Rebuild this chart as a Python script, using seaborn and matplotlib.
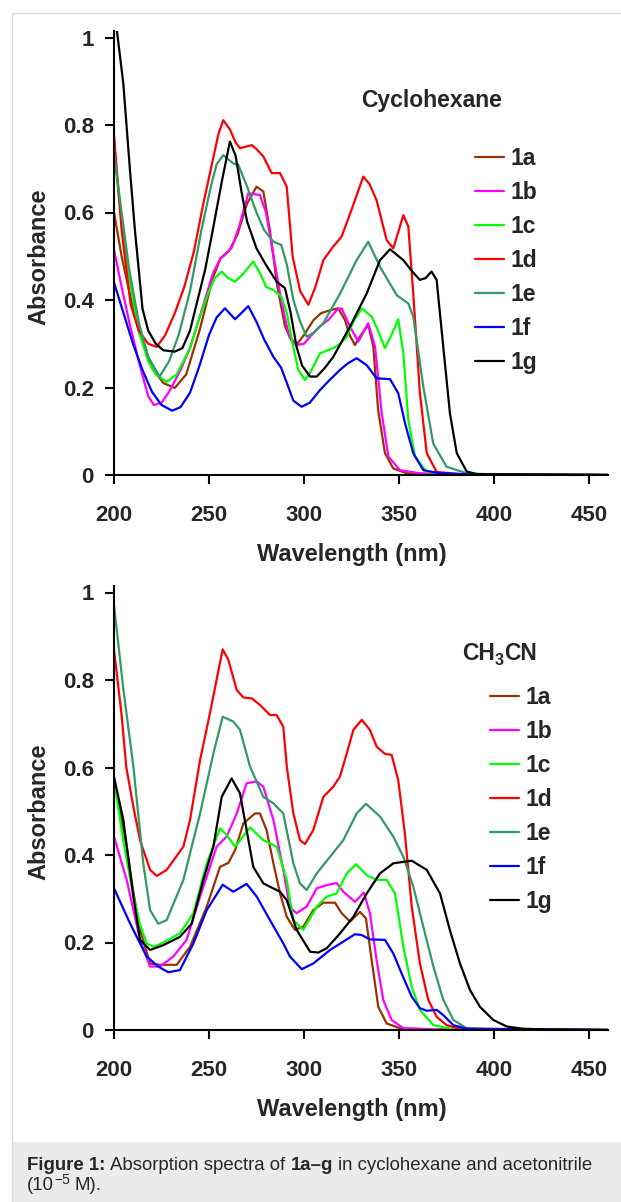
import numpy as np
import pandas as pd
import seaborn as sns
import matplotlib.pyplot as plt
from matplotlib.transforms import IdentityTransform
from matplotlib.patches import Rectangle
from matplotlib.lines import Line2D

# ---------------- data ----------------
compounds = ["1a", "1b", "1c", "1d", "1e", "1f", "1g"]
colors = ["#993300", "#ff00ff", "#00ff00", "#ff0000", "#339966", "#0000ff", "#000000"]

# cyclohexane
cy_1a_x = [200, 204, 208, 213, 220, 226, 232, 238, 245, 252, 256, 258, 261, 265, 270, 275, 278.6, 282, 286, 290, 293, 296, 300, 305, 309, 314, 318, 321.6, 324, 326.8, 330, 333.8, 336.5, 339, 342.6, 347, 354, 370, 460]
cy_1a_y = [0.60, 0.50, 0.42, 0.33, 0.245, 0.21, 0.199, 0.23, 0.33, 0.45, 0.495, 0.503, 0.515, 0.55, 0.62, 0.659, 0.648, 0.56, 0.43, 0.34, 0.31, 0.297, 0.32, 0.354, 0.37, 0.377, 0.381, 0.354, 0.32, 0.297, 0.32, 0.343, 0.293, 0.149, 0.05, 0.015, 0.004, 0.001, 0.0]

cy_1b_x = [200, 204, 208, 213, 218, 221, 225, 229, 235, 240, 245, 252, 256, 258.4, 262, 266, 270.7, 276.8, 280, 284, 288, 292, 296, 300, 304, 308.4, 313, 317.2, 319.8, 324.2, 328.6, 333.8, 337.4, 340.9, 344.4, 350.5, 361, 380, 460]
cy_1b_y = [0.515, 0.43, 0.35, 0.26, 0.18, 0.16, 0.165, 0.19, 0.24, 0.29, 0.36, 0.46, 0.495, 0.503, 0.52, 0.57, 0.644, 0.64, 0.60, 0.50, 0.40, 0.32, 0.297, 0.30, 0.32, 0.34, 0.355, 0.377, 0.381, 0.339, 0.305, 0.347, 0.293, 0.141, 0.042, 0.011, 0.004, 0.001, 0.0]

cy_1c_x = [200, 204, 208, 213, 218, 222, 227.7, 233, 240, 245, 250, 253, 256.7, 260, 263.7, 268, 273.3, 277, 280, 283.9, 288, 291, 294, 297, 300.5, 304, 308.4, 315.4, 319, 322.5, 326, 330.4, 335.6, 339, 342.6, 346, 349.6, 352.3, 354.9, 358.4, 364.6, 380, 460]
cy_1c_y = [0.737, 0.58, 0.45, 0.33, 0.26, 0.23, 0.213, 0.23, 0.29, 0.36, 0.42, 0.45, 0.465, 0.45, 0.442, 0.46, 0.488, 0.46, 0.43, 0.423, 0.408, 0.37, 0.30, 0.24, 0.217, 0.24, 0.278, 0.29, 0.30, 0.316, 0.35, 0.381, 0.362, 0.33, 0.29, 0.32, 0.356, 0.278, 0.126, 0.042, 0.007, 0.001, 0.0]

cy_1d_x = [200, 204, 208.75, 213, 218, 222.5, 227, 232, 237, 242, 247, 252, 255, 257.5, 261, 264, 266.3, 269, 272.5, 275, 278.6, 283, 287.4, 290.9, 294, 298, 302.3, 306, 310.2, 315, 319.8, 325, 331.2, 334.5, 338.2, 343.5, 347, 352.3, 354.9, 357.5, 361, 364.6, 369.8, 385, 460]
cy_1d_y = [0.777, 0.56, 0.39, 0.33, 0.30, 0.293, 0.32, 0.37, 0.43, 0.51, 0.62, 0.72, 0.78, 0.811, 0.79, 0.76, 0.747, 0.75, 0.754, 0.745, 0.728, 0.69, 0.69, 0.659, 0.50, 0.42, 0.389, 0.43, 0.491, 0.52, 0.545, 0.606, 0.682, 0.665, 0.628, 0.537, 0.518, 0.594, 0.568, 0.415, 0.187, 0.05, 0.007, 0.001, 0.0]

cy_1e_x = [200, 204, 208, 213, 218, 224, 229, 234, 240, 246, 251, 254, 257.5, 262.8, 265.4, 270, 275, 279, 283.9, 288, 291, 294.4, 298, 301.4, 305, 310.2, 319, 327.7, 333.8, 340, 348.8, 354.9, 357.5, 362.8, 368, 375, 385.5, 400, 460]
cy_1e_y = [0.737, 0.60, 0.47, 0.35, 0.27, 0.225, 0.26, 0.32, 0.42, 0.56, 0.66, 0.71, 0.731, 0.712, 0.709, 0.66, 0.60, 0.56, 0.533, 0.526, 0.48, 0.40, 0.35, 0.316, 0.325, 0.347, 0.415, 0.491, 0.533, 0.476, 0.411, 0.392, 0.362, 0.202, 0.072, 0.019, 0.004, 0.001, 0.0]

cy_1f_x = [200, 205, 210, 215, 220, 225, 230.6, 235, 240, 245, 250, 254, 258.4, 263.7, 267, 270.7, 275, 279, 283.9, 288, 291, 294.4, 298.7, 303, 308.4, 313, 318.9, 323, 327.7, 333, 338.2, 345.3, 349.6, 353.2, 357.5, 362.8, 371.6, 390, 460]
cy_1f_y = [0.44, 0.37, 0.30, 0.24, 0.19, 0.16, 0.147, 0.155, 0.188, 0.25, 0.32, 0.36, 0.381, 0.356, 0.37, 0.386, 0.35, 0.31, 0.27, 0.245, 0.21, 0.17, 0.156, 0.165, 0.194, 0.215, 0.24, 0.255, 0.267, 0.251, 0.221, 0.219, 0.187, 0.118, 0.05, 0.011, 0.004, 0.001, 0.0]

cy_1g_x = [200, 204.9, 208.4, 211, 215, 218, 222, 226, 232, 236, 240, 244, 248, 252, 256.7, 261, 264, 267, 270, 275, 280, 285.6, 290, 293, 296.1, 299, 303.2, 306.7, 311, 315.4, 324.2, 333, 340, 345.3, 352.3, 357, 361, 364, 367.1, 369.8, 373.3, 376.8, 380.4, 385.6, 391, 460]
cy_1g_y = [1.07, 0.895, 0.697, 0.56, 0.38, 0.33, 0.30, 0.285, 0.282, 0.29, 0.33, 0.40, 0.47, 0.56, 0.67, 0.762, 0.73, 0.65, 0.58, 0.518, 0.48, 0.442, 0.427, 0.37, 0.293, 0.25, 0.225, 0.225, 0.245, 0.27, 0.339, 0.415, 0.491, 0.516, 0.491, 0.465, 0.446, 0.45, 0.465, 0.446, 0.293, 0.141, 0.05, 0.008, 0.002, 0.0]

# acetonitrile
ac_1a_x = [200, 203, 206.7, 210, 213.7, 219, 224.2, 233, 240, 248.8, 255.8, 260.2, 263.7, 268.1, 274.2, 276.8, 280.3, 283.9, 287.4, 290.9, 295.2, 299.6, 304.9, 310.2, 316.3, 319.8, 324.2, 329.5, 332.6, 335.6, 339.1, 343.5, 350.5, 370, 460]
ac_1a_y = [0.57, 0.50, 0.419, 0.32, 0.229, 0.152, 0.149, 0.149, 0.19, 0.282, 0.373, 0.382, 0.411, 0.472, 0.495, 0.495, 0.457, 0.381, 0.312, 0.259, 0.229, 0.236, 0.274, 0.291, 0.291, 0.267, 0.248, 0.27, 0.255, 0.16, 0.053, 0.015, 0.004, 0.001, 0.0]

ac_1b_x = [200, 206.7, 213.7, 219, 224.2, 231.2, 238.2, 245.3, 254, 259.3, 264.6, 269.8, 275.1, 278.6, 283.9, 289.1, 292.6, 296.1, 301.4, 306.7, 312, 317.2, 320.7, 326.8, 331.5, 334.7, 338.2, 341.7, 346.1, 352.3, 370, 460]
ac_1b_y = [0.442, 0.343, 0.206, 0.145, 0.145, 0.168, 0.206, 0.305, 0.419, 0.442, 0.495, 0.564, 0.568, 0.556, 0.48, 0.366, 0.28, 0.267, 0.282, 0.324, 0.331, 0.336, 0.316, 0.293, 0.314, 0.267, 0.16, 0.069, 0.023, 0.004, 0.001, 0.0]

ac_1c_x = [200, 205, 210, 213.7, 217.2, 221, 226, 234.7, 241.8, 248.8, 255.8, 259.3, 263.7, 271.6, 278.6, 285.6, 290.9, 294.4, 299.6, 306.7, 312, 317.2, 322.5, 327.4, 333, 338.2, 343.5, 347.9, 352.3, 356.7, 361, 368.1, 378.6, 460]
ac_1c_y = [0.57, 0.43, 0.31, 0.24, 0.198, 0.19, 0.20, 0.221, 0.267, 0.381, 0.461, 0.446, 0.419, 0.463, 0.434, 0.419, 0.343, 0.251, 0.229, 0.282, 0.305, 0.312, 0.358, 0.379, 0.354, 0.343, 0.343, 0.312, 0.19, 0.099, 0.046, 0.011, 0.002, 0.0]

ac_1d_x = [200, 203.9, 206.5, 210.2, 213.7, 219, 222.5, 227.7, 236.5, 240, 245.3, 250.5, 257.2, 260.2, 264.6, 268.1, 272.5, 276.8, 282.1, 285.6, 289.1, 291, 294.4, 297.9, 300.5, 304.9, 310.2, 315.4, 318.9, 322.5, 326, 330.4, 334.7, 338.2, 342.6, 346.1, 349.6, 353.1, 356.7, 361, 365.4, 369.8, 375.1, 382, 460]
ac_1d_y = [0.869, 0.724, 0.60, 0.51, 0.434, 0.366, 0.352, 0.366, 0.419, 0.48, 0.617, 0.724, 0.87, 0.846, 0.777, 0.76, 0.758, 0.743, 0.72, 0.72, 0.693, 0.60, 0.495, 0.434, 0.425, 0.457, 0.533, 0.556, 0.579, 0.632, 0.686, 0.709, 0.686, 0.648, 0.631, 0.629, 0.571, 0.449, 0.282, 0.152, 0.069, 0.03, 0.011, 0.003, 0.0]

ac_1e_x = [200, 204.9, 210.2, 215.4, 219, 223.3, 227.7, 236.5, 245.3, 252.3, 257.2, 262.8, 266.3, 271.6, 278.6, 283.9, 289.1, 294.4, 297.9, 301.4, 306.7, 313.7, 320.7, 327.7, 332.6, 340, 347, 352.3, 357.5, 362.8, 368.1, 373.3, 378.6, 385.6, 400, 460]
ac_1e_y = [0.971, 0.78, 0.602, 0.381, 0.274, 0.243, 0.251, 0.343, 0.495, 0.632, 0.716, 0.705, 0.686, 0.602, 0.533, 0.518, 0.495, 0.381, 0.335, 0.32, 0.358, 0.396, 0.434, 0.495, 0.517, 0.488, 0.442, 0.396, 0.328, 0.236, 0.145, 0.069, 0.023, 0.004, 0.001, 0.0]

ac_1f_x = [200, 208.4, 217.2, 223.3, 228.6, 234.7, 241.8, 248.8, 257.2, 262.8, 269.8, 275.1, 282.1, 289.1, 292.6, 298.8, 304.9, 313.7, 320.7, 326.8, 330.4, 334.7, 342.6, 347, 351.4, 356.7, 361, 364.6, 369.8, 373.3, 378.6, 385.6, 460]
ac_1f_y = [0.324, 0.244, 0.168, 0.145, 0.132, 0.137, 0.198, 0.274, 0.332, 0.316, 0.334, 0.305, 0.251, 0.198, 0.168, 0.139, 0.152, 0.183, 0.202, 0.219, 0.217, 0.207, 0.206, 0.175, 0.129, 0.076, 0.05, 0.044, 0.046, 0.034, 0.011, 0.003, 0.0]

ac_1g_x = [200, 204.9, 210.2, 213.7, 219, 226, 234.7, 240.9, 247, 252.3, 256.7, 261.9, 266.3, 269.8, 273.3, 278.6, 287.4, 290.9, 296.1, 303.2, 307.5, 312, 319, 326, 333, 340, 347, 356.7, 364.6, 371.6, 376.8, 382.1, 387.4, 392.6, 399.6, 406.7, 415, 428, 460]
ac_1g_y = [0.579, 0.48, 0.305, 0.206, 0.183, 0.194, 0.213, 0.243, 0.343, 0.419, 0.533, 0.575, 0.541, 0.457, 0.373, 0.335, 0.316, 0.297, 0.229, 0.179, 0.177, 0.187, 0.221, 0.259, 0.312, 0.358, 0.381, 0.387, 0.366, 0.312, 0.228, 0.152, 0.091, 0.053, 0.023, 0.008, 0.003, 0.001, 0.0]

x_ticks = [200, 250, 300, 350, 400, 450]
y_ticks = [0, 0.2, 0.4, 0.6, 0.8, 1]
y_ticklabels = ["0", "0.2", "0.4", "0.6", "0.8", "1"]


def long_form(pairs):
    frames = []
    for name, (xs, ys) in zip(compounds, pairs):
        frames.append(pd.DataFrame({"wl": xs, "A": ys, "cmpd": name}))
    return pd.concat(frames, ignore_index=True)


df_cy = long_form([(cy_1a_x, cy_1a_y), (cy_1b_x, cy_1b_y), (cy_1c_x, cy_1c_y), (cy_1d_x, cy_1d_y),
                   (cy_1e_x, cy_1e_y), (cy_1f_x, cy_1f_y), (cy_1g_x, cy_1g_y)])
df_ac = long_form([(ac_1a_x, ac_1a_y), (ac_1b_x, ac_1b_y), (ac_1c_x, ac_1c_y), (ac_1d_x, ac_1d_y),
                   (ac_1e_x, ac_1e_y), (ac_1f_x, ac_1f_y), (ac_1g_x, ac_1g_y)])

sns.set_theme(style="white")
plt.rcParams["font.family"] = ["Liberation Sans", "DejaVu Sans"]

W, H = 621, 1202
fig = plt.figure(figsize=(W / 100, H / 100), dpi=100)
fig.patch.set_facecolor("white")

# page frame and caption box
fig.add_artist(Line2D([11.5 / W, 11.5 / W], [0, 1 - 13 / H], color="#dcdcdc", lw=1.0))
fig.add_artist(Line2D([11.5 / W, 1], [1 - 13 / H, 1 - 13 / H], color="#dcdcdc", lw=1.0))
fig.add_artist(Rectangle((11.5 / W, 0), 1 - 11.5 / W, 60 / H, facecolor="#ebebeb", edgecolor="none"))

ax_left = 114 / W
ax_w = 494 / W
ax_h = 444.5 / H
ax1 = fig.add_axes([ax_left, (H - 475) / H, ax_w, ax_h])
ax2 = fig.add_axes([ax_left, (H - 1030) / H, ax_w, ax_h])

palette = dict(zip(compounds, colors))
leg_pos = {ax1: (475, 147), ax2: (490, 686)}

for ax, df in [(ax1, df_cy), (ax2, df_ac)]:
    sns.lineplot(data=df, x="wl", y="A", hue="cmpd", hue_order=compounds, palette=palette,
                 estimator=None, sort=False, lw=1.6, ax=ax)
    ax.set_xlim(200, 460)
    ax.set_ylim(0, 1.016)
    ax.set_xticks(x_ticks)
    ax.set_yticks(y_ticks)
    ax.set_yticklabels(y_ticklabels)
    for side in ["top", "right"]:
        ax.spines[side].set_visible(False)
    for side in ["left", "bottom"]:
        ax.spines[side].set_color("black")
        ax.spines[side].set_linewidth(1.5)
    ax.tick_params(axis="both", which="major", direction="out", length=6.5, width=1.5,
                   color="black", labelsize=16, left=True, bottom=True)
    ax.tick_params(axis="x", pad=15)
    ax.tick_params(axis="y", pad=8)
    for lab in ax.get_xticklabels() + ax.get_yticklabels():
        lab.set_fontweight("bold")
    ax.set_xlabel("Wavelength (nm)", fontsize=17, fontweight="bold")
    ax.set_ylabel("Absorbance", fontsize=17, fontweight="bold")
    ax.xaxis.set_label_coords(0.482, -0.153)
    ax.yaxis.set_label_coords(-0.128, 0.49)
    lx, ly = leg_pos[ax]
    sns.move_legend(ax, "upper left", bbox_to_anchor=(lx / W, 1 - ly / H),
                    bbox_transform=fig.transFigure, title=None, frameon=False,
                    borderpad=0, borderaxespad=0, labelspacing=0.48, handlelength=1.25,
                    handletextpad=0.3, prop={"size": 16.5, "weight": "bold"})
    for h in ax.get_legend().legend_handles:
        h.set_linewidth(1.6)

ax1.text(432 / W, 1 - 100 / H, "Cyclohexane", transform=fig.transFigure, ha="center", va="center",
         fontsize=16.5, fontweight="bold")

renderer = fig.canvas.get_renderer()
ident = IdentityTransform()


def put_runs(x, y, runs):
    # runs: (text, size, weight, dy, gap after in px)
    for s, size, weight, dy, gap in runs:
        t = fig.text(x, y + dy, s, transform=ident, fontsize=size, fontweight=weight,
                     ha="left", va="baseline")
        x += t.get_window_extent(renderer).width + gap


# CH3CN with subscript
put_runs(462, H - 660, [("CH", 16.5, "bold", 0, 0), ("3", 11.5, "bold", -5, 0), ("CN", 16.5, "bold", 0, 0)])

# caption
cs = 13.4
sp = 5.0
put_runs(27, H - 1170, [("Figure 1:", cs, "bold", 0, sp), ("Absorption spectra of", cs, "normal", 0, sp),
                        ("1a–g", cs, "bold", 0, sp), ("in cyclohexane and acetonitrile", cs, "normal", 0, 0)])
put_runs(27, H - 1190, [("(10", cs, "normal", 0, 0.5), ("−5", 10, "normal", 6.5, sp - 1), ("M).", cs, "normal", 0, 0)])

fig.savefig("out.png", dpi=100)
